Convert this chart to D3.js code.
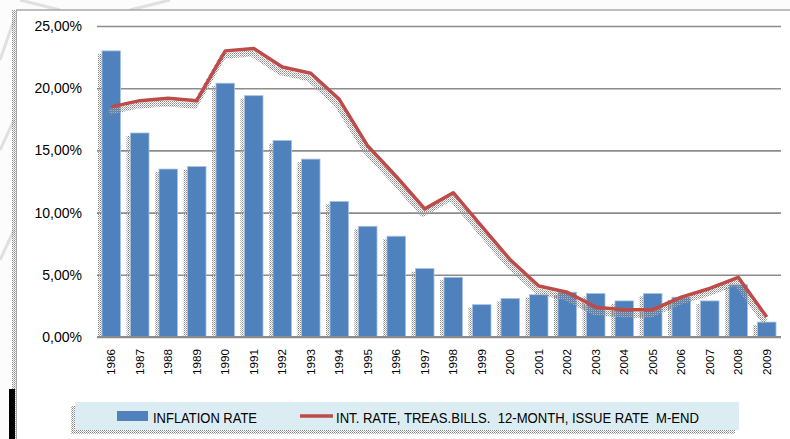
<!DOCTYPE html>
<html>
<head>
<meta charset="utf-8">
<script src="https://cdn.jsdelivr.net/npm/d3@7"></script>
<style>
  html, body { margin: 0; padding: 0; background: #fff; }
  svg { display: block; font-family: "Liberation Sans", Arial, sans-serif; }
</style>
</head>
<body>
<svg id="chart" width="790" height="439"></svg>
<script>
// values (percent)
var years = ['1986','1987','1988','1989','1990','1991','1992','1993','1994','1995','1996','1997',
             '1998','1999','2000','2001','2002','2003','2004','2005','2006','2007','2008','2009'];
var inflation = [23.0, 16.4, 13.5, 13.7, 20.4, 19.4, 15.8, 14.3, 10.9, 8.9, 8.1, 5.5,
                 4.8, 2.6, 3.1, 3.4, 3.6, 3.5, 2.9, 3.5, 3.2, 2.9, 4.2, 1.2];
var tbillRate = [18.5, 19.0, 19.2, 19.0, 23.0, 23.2, 21.7, 21.2, 19.1, 15.35, 12.9, 10.3,
                 11.6, 8.9, 6.2, 4.1, 3.6, 2.4, 2.2, 2.2, 3.2, 3.9, 4.8, 1.6];
var yTicks = [0, 5, 10, 15, 20, 25];
var legendLabels = ['INFLATION RATE', 'INT. RATE, TREAS.BILLS.  12-MONTH, ISSUE RATE  M-END'];

var svg = d3.select('#chart'),
    blue = '#4f81bd',
    red = '#be4b48',
    grid = '#8c8c8c';

// dotted shadow pattern, like the excel soft-shadow in the picture
var defs = svg.append('defs');
var pat = defs.append('pattern')
    .attr('id', 'dots')
    .attr('width', 2).attr('height', 2)
    .attr('patternUnits', 'userSpaceOnUse');
pat.append('rect').attr('x', 0).attr('y', 0).attr('width', 1).attr('height', 1).attr('fill', '#8a8a8a');
pat.append('rect').attr('x', 1).attr('y', 1).attr('width', 1).attr('height', 1).attr('fill', '#b5b5b5');

// outside background with a few faint strokes
svg.append('rect').attr('width', 790).attr('height', 439).attr('fill', '#fcfcfc');
[[0, 60, 14, 20], [0, 150, 14, 120], [0, 260, 14, 230], [20, 0, 60, 10], [130, 10, 170, 0]].forEach(function(s) {
    svg.append('line')
        .attr('x1', s[0]).attr('y1', s[1]).attr('x2', s[2]).attr('y2', s[3])
        .attr('stroke', '#e0e0e0').attr('stroke-width', 3);
});

// chart area
svg.append('rect').attr('x', 12).attr('y', 10).attr('width', 4).attr('height', 429).attr('fill', 'url(#dots)');
svg.append('rect').attr('x', 16).attr('y', 10).attr('width', 774).attr('height', 429).attr('fill', '#fff');
svg.append('line').attr('x1', 16).attr('y1', 10).attr('x2', 790).attr('y2', 10)
    .attr('stroke', '#a8a8a8').attr('stroke-width', 1.5);
svg.append('line').attr('x1', 16.5).attr('y1', 10).attr('x2', 16.5).attr('y2', 439)
    .attr('stroke', '#a8a8a8').attr('stroke-width', 1);
svg.append('rect').attr('x', 9).attr('y', 389).attr('width', 6).attr('height', 50).attr('fill', '#000');

var x = d3.scaleBand()
    .domain(years)
    .range([97, 781])
    .paddingInner(0.35)
    .paddingOuter(0.175);

var y = d3.scaleLinear()
    .domain([0, 25])
    .range([337, 26]);

// grid lines + y labels
var yAxis = svg.append('g')
    .attr('transform', 'translate(97,0)')
    .call(d3.axisLeft(y)
        .tickValues(yTicks)
        .tickSize(-684)
        .tickPadding(15)
        .tickFormat(function(d) { return d.toFixed(2).replace('.', ',') + '%'; }));
yAxis.select('.domain').remove();
yAxis.selectAll('.tick line').attr('stroke', grid).attr('stroke-width', 1.6);
yAxis.selectAll('.tick text')
    .attr('fill', '#000')
    .style('font-size', '14px');

// bars: shadow first, then the bar
svg.append('g').selectAll('rect')
    .data(inflation)
    .join('rect')
    .attr('x', function(d, i) { return x(years[i]) - 4; })
    .attr('y', function(d) { return y(d) + 3; })
    .attr('width', x.bandwidth())
    .attr('height', function(d) { return y(0) - y(d) - 3; })
    .attr('fill', 'url(#dots)');

svg.append('g').selectAll('rect')
    .data(inflation)
    .join('rect')
    .attr('x', function(d, i) { return x(years[i]); })
    .attr('y', function(d) { return y(d); })
    .attr('width', x.bandwidth())
    .attr('height', function(d) { return y(0) - y(d); })
    .attr('fill', blue)
    .attr('stroke', '#a9c1e0')
    .attr('stroke-width', 0.8);

// base line
svg.append('line')
    .attr('x1', 97).attr('x2', 781)
    .attr('y1', y(0)).attr('y2', y(0))
    .attr('stroke', grid).attr('stroke-width', 2);

// x labels, rotated
var xAxis = svg.append('g')
    .attr('transform', 'translate(0,' + y(0) + ')')
    .call(d3.axisBottom(x).tickSize(0).tickPadding(0));
xAxis.select('.domain').remove();
xAxis.selectAll('.tick text')
    .attr('transform', 'rotate(-90)')
    .attr('x', -12)
    .attr('y', 0)
    .attr('dy', '0.36em')
    .attr('text-anchor', 'end')
    .attr('fill', '#000')
    .style('font-size', '11.7px');

// the interest rate line, with its shadow
var line = d3.line()
    .x(function(d, i) { return x(years[i]) + x.bandwidth() / 2; })
    .y(function(d) { return y(d); });

svg.append('path')
    .datum(tbillRate)
    .attr('d', line)
    .attr('transform', 'translate(-2,5)')
    .attr('fill', 'none')
    .attr('stroke', 'url(#dots)')
    .attr('stroke-width', 6)
    .attr('stroke-linejoin', 'round');

svg.append('path')
    .datum(tbillRate)
    .attr('d', line)
    .attr('fill', 'none')
    .attr('stroke', red)
    .attr('stroke-width', 3.5)
    .attr('stroke-linejoin', 'round');

// legend
var lg = svg.append('g');
lg.append('rect').attr('x', 71).attr('y', 406).attr('width', 664).attr('height', 28).attr('fill', 'url(#dots)');
lg.append('rect').attr('x', 75).attr('y', 402).attr('width', 664).attr('height', 28).attr('fill', '#dbedf3');
lg.append('rect').attr('x', 117).attr('y', 411).attr('width', 31).attr('height', 10).attr('fill', blue);
lg.append('text')
    .attr('x', 153).attr('y', 423)
    .attr('textLength', 104).attr('lengthAdjust', 'spacingAndGlyphs')
    .style('font-size', '15px')
    .text(legendLabels[0]);
lg.append('line')
    .attr('x1', 300).attr('x2', 333).attr('y1', 416).attr('y2', 416)
    .attr('stroke', red).attr('stroke-width', 3.5);
lg.append('text')
    .attr('x', 336).attr('y', 423)
    .attr('textLength', 363).attr('lengthAdjust', 'spacingAndGlyphs')
    .style('font-size', '15px')
    .style('white-space', 'pre')
    .text(legendLabels[1]);
</script>
</body>
</html>
